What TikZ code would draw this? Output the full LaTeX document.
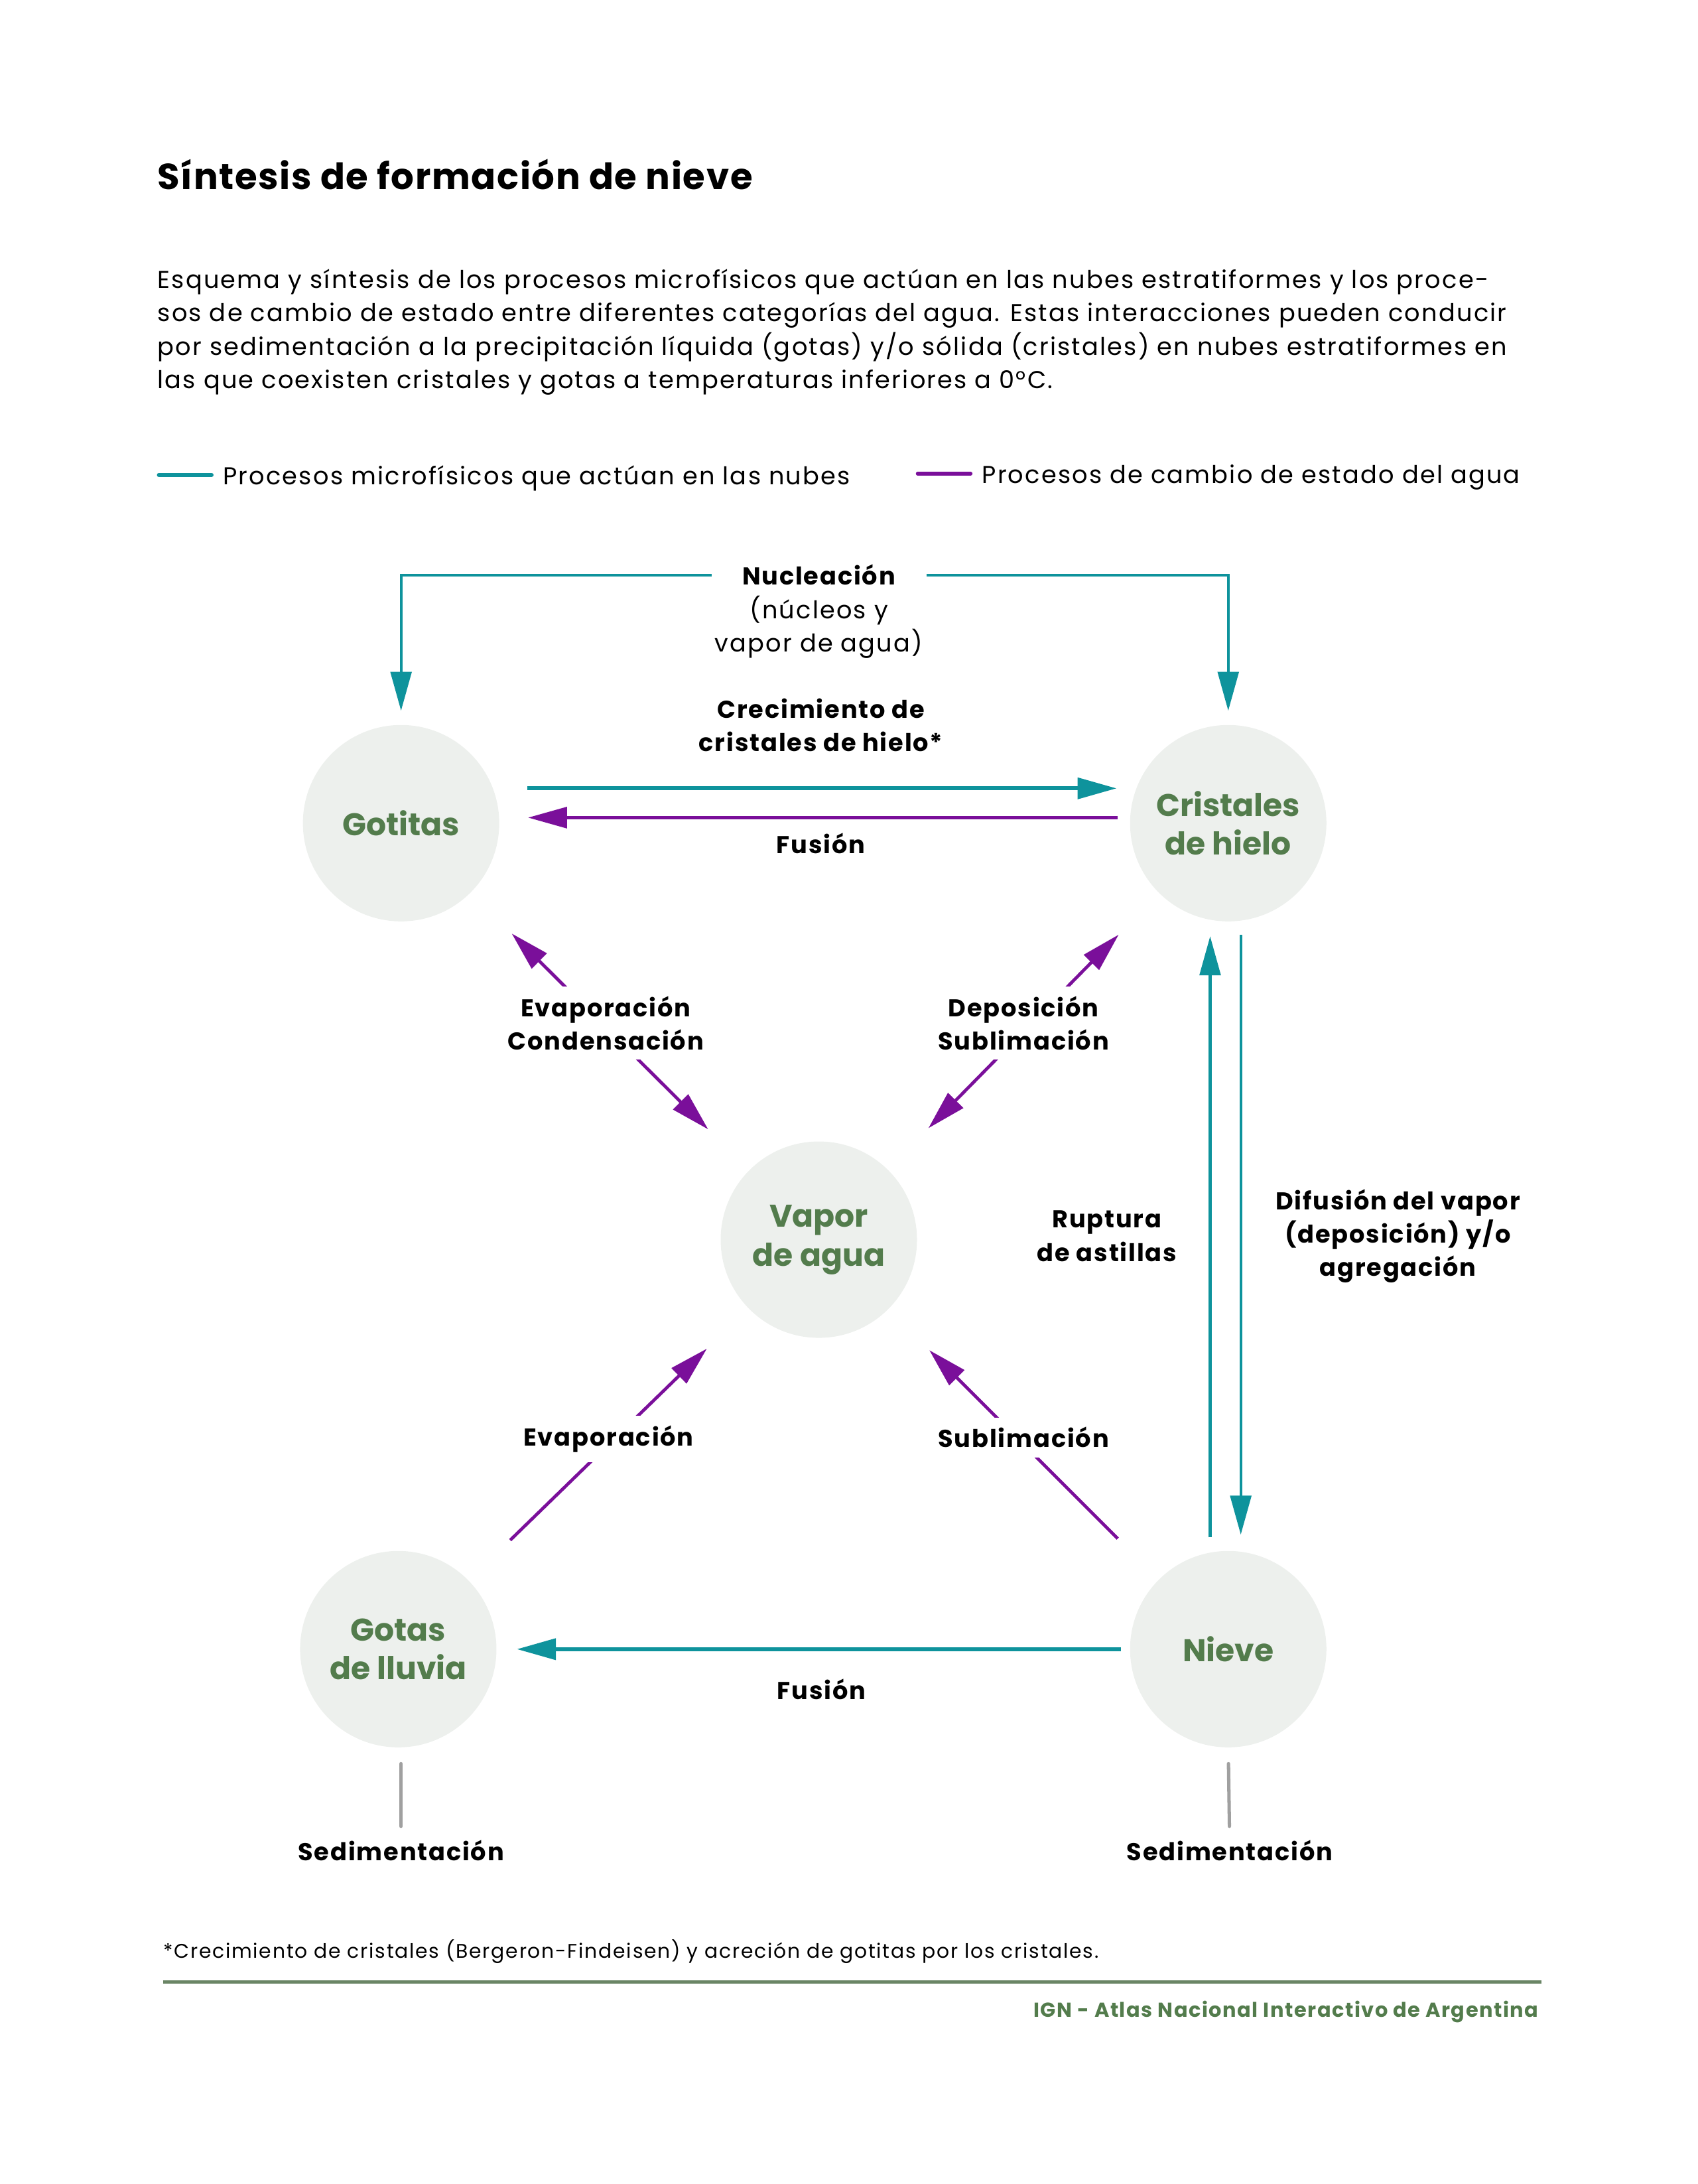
\documentclass[tikz,border=0pt]{standalone}
\usepackage{fontspec}
\setmainfont{Poppins}[LetterSpace=6]
\newfontfamily\negrita{Poppins}[LetterSpace=5]
\newfontfamily\titular{Poppins}[LetterSpace=3]
\newfontfamily\plano{Poppins}
\usetikzlibrary{arrows.meta}
\definecolor{turquesa}{HTML}{0E939C}
\definecolor{violeta}{HTML}{7A0F9A}
\definecolor{verde}{HTML}{537C4C}
\definecolor{fondo}{HTML}{EDF0ED}
\definecolor{linea}{HTML}{6A8565}
\definecolor{gris}{HTML}{A0A0A0}
\tikzset{
  estado/.style={circle, fill=fondo, minimum size=141pt, inner sep=0pt, text=verde, align=center, font=\plano\fontsize{22.5}{28}\selectfont\bfseries},
  rotulo/.style={inner sep=0pt, align=center, text=black, font=\negrita\fontsize{17.5}{24}\selectfont\bfseries},
  texto/.style={inner sep=0pt, text=black, font=\fontsize{17.5}{24}\selectfont},
  blanco/.style={rotulo, fill=white, inner xsep=2pt, inner ysep=7pt},
  punta/.style={-{Triangle[length=28pt,width=15pt]}},
  proc/.style={turquesa, line width=2.7pt, punta},
  procfino/.style={turquesa, line width=2pt, punta},
  cambio/.style={violeta, line width=2.3pt, punta},
}

\begin{document}
\begin{tikzpicture}[x=1pt,y=-1pt]
  %%%%% START %%%%%
  \def\diag{41.5pt}
  \useasboundingbox (0,0) rectangle (1218.9,1568);

  % titulo y texto
  \node[anchor=base west, inner sep=0pt, font=\titular\fontsize{26}{30}\selectfont\bfseries] (titulo) at (113,136) {Síntesis de formación de nieve};
  \node[texto, anchor=base west] (linea1) at (113,207) {Esquema y síntesis de los procesos microfísicos que actúan en las nubes estratiformes y los proce-};
  \node[texto, anchor=base west] (linea2) at (113,231) {sos de cambio de estado entre diferentes categorías del agua. Estas interacciones pueden conducir};
  \node[texto, anchor=base west] (linea3) at (113,255) {por sedimentación a la precipitación líquida (gotas) y/o sólida (cristales) en nubes estratiformes en};
  \node[texto, anchor=base west] (linea4) at (113,279) {las que coexisten cristales y gotas a temperaturas inferiores a 0°C.};

  % leyenda
  \draw[turquesa, line width=2.7pt, line cap=round] (114,341) -- (152,341);
  \node[texto, anchor=base west] (leyenda1) at (160,348) {Procesos microfísicos que actúan en las nubes};
  \draw[violeta, line width=2.7pt, line cap=round] (659,340) -- (697,340);
  \node[texto, anchor=base west] (leyenda2) at (705,347) {Procesos de cambio de estado del agua};

  % estados del agua
  \node[estado] (gotitas) at (288,591) {Gotitas};
  \node[estado] (cristales) at (882,591) {Cristales\\de hielo};
  \node[estado] (vapor) at (588,890) {Vapor\\de agua};
  \node[estado] (gotas) at (286,1184) {Gotas\\de lluvia};
  \node[estado] (nieve) at (882,1184) {Nieve};

  % nucleacion
  \node[rotulo, anchor=base, inner xsep=22pt] (nucleacion) at (588,420) {Nucleación};
  \node[texto, anchor=base] (nucleos) at (588,444) {(núcleos y};
  \node[texto, anchor=base] (vaporagua) at (588,468) {vapor de agua)};
  \draw[procfino, shorten >=10pt] (nucleacion.west) -| (gotitas.north);
  \draw[procfino, shorten >=10pt] (nucleacion.east) -| (cristales.north);

  % gotitas <-> cristales
  \draw[proc, shorten <=20pt, shorten >=9.5pt] ([yshift=25pt]gotitas.east) -- ([yshift=25pt]cristales.west)
    node[rotulo, pos=0.51, above=25pt] (crecimiento) {Crecimiento de\\cristales de hielo*};
  \draw[cambio, shorten <=8.5pt, shorten >=20.5pt] ([yshift=4pt]cristales.west) -- ([yshift=4pt]gotitas.east)
    node[rotulo, pos=0.49, below=10pt] (fusion1) {Fusión};

  % vapor
  \draw[cambio, {Triangle[length=28pt,width=15pt]}-{Triangle[length=28pt,width=15pt]}, shorten <=\diag, shorten >=\diag] (gotitas) -- node[blanco, xshift=-3pt, yshift=6pt] (evcond) {Evaporación\\Condensación} (vapor);
  \draw[cambio, {Triangle[length=28pt,width=15pt]}-{Triangle[length=28pt,width=15pt]}, shorten <=\diag, shorten >=\diag] (cristales) -- node[blanco, yshift=6pt] (depsub) {Deposición\\Sublimación} (vapor);
  \draw[cambio, shorten <=\diag, shorten >=\diag] (gotas) -- node[blanco, yshift=4pt] (evap) {Evaporación} (vapor);
  \draw[cambio, shorten <=\diag, shorten >=\diag] (nieve) -- node[blanco, yshift=5pt] (subl) {Sublimación} (vapor);

  % cristales <-> nieve
  \draw[procfino, shorten <=9.5pt, shorten >=10.5pt] ([xshift=-13pt]nieve.north) -- ([xshift=-13pt]cristales.south)
    node[rotulo, midway, left=23pt] (ruptura) {Ruptura\\de astillas};
  \draw[procfino, shorten <=9.5pt, shorten >=11.5pt] ([xshift=9pt]cristales.south) -- ([xshift=9pt]nieve.north)
    node[rotulo, midway, right=24pt] (difusion) {Difusión del vapor\\(deposición) y/o\\agregación};

  % nieve -> gotas de lluvia
  \draw[proc, shorten <=6.5pt, shorten >=14.5pt] (nieve.west) -- (gotas.east)
    node[rotulo, pos=0.487, below=20pt] (fusion2) {Fusión};

  % sedimentacion
  \node[rotulo, anchor=base] (sed1) at (288,1336) {Sedimentación};
  \node[rotulo, anchor=base] (sed2) at (883,1336) {Sedimentación};
  \draw[gris, line width=2.4pt, line cap=round, shorten <=11.5pt, shorten >=10pt] (gotas.south -| sed1) -- (sed1.north);
  \draw[gris, line width=2.4pt, line cap=round, shorten <=11.5pt, shorten >=10pt] (nieve.south) -- (sed2.north);

  % pie
  \node[anchor=base west, inner sep=0pt, font=\fontsize{14.2}{16}\selectfont] (nota) at (117,1406) {*Crecimiento de cristales (Bergeron-Findeisen) y acreción de gotitas por los cristales.};
  \draw[linea, line width=2.5pt] (117,1423) -- (1107,1423);
  \node[anchor=base east, inner sep=0pt, text=verde, font=\negrita\fontsize{14.5}{16}\selectfont\bfseries] (ign) at (1105,1448) {IGN - Atlas Nacional Interactivo de Argentina};
  %%%%% START %%%%%
\end{tikzpicture}
\end{document}
